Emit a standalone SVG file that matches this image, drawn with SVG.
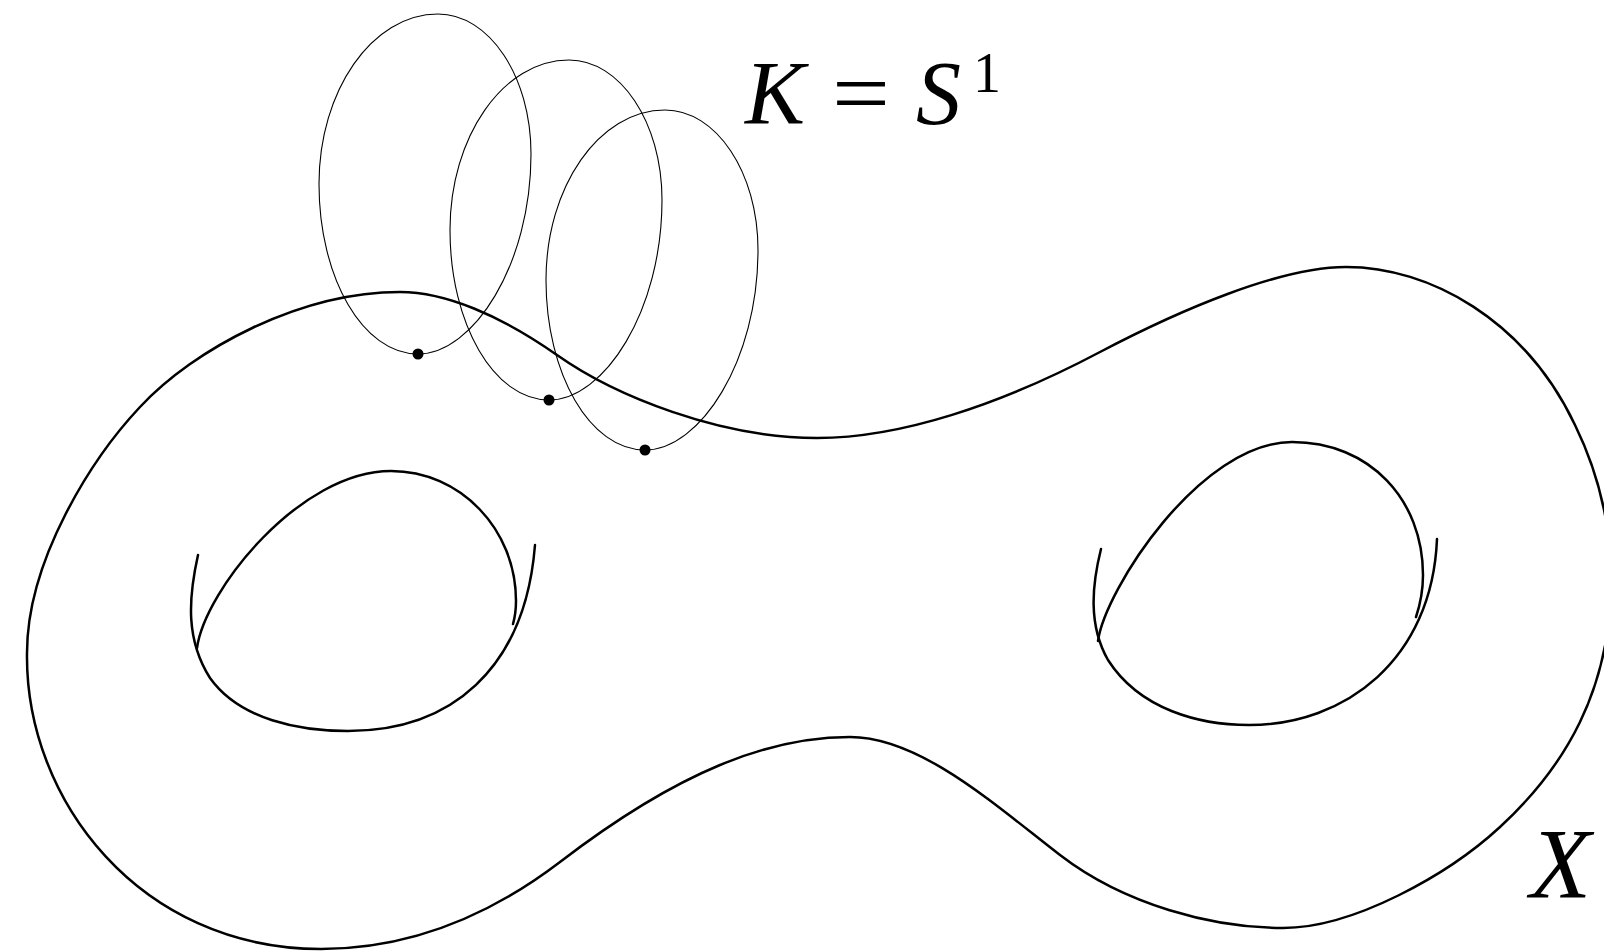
<svg xmlns="http://www.w3.org/2000/svg" xmlns:xlink="http://www.w3.org/1999/xlink" width="1604" height="951" viewBox="0 0 1604 951">
<style>
.thick{fill:none;stroke:#000;stroke-width:2.5;stroke-linecap:round;stroke-linejoin:round}
.thin{fill:none;stroke:#000;stroke-width:1.1}
.dot{fill:#000}
</style>
<defs>
<path id="loop" class="thin" d="M 0,0 C 51,0 93,62 93,140 C 93,251 35,340 -20,340 C -75,340 -119,264 -119,170 C -119,77 -66,0 0,0 Z"/>
</defs>
<rect width="1604" height="951" fill="#fff"/>
<g id="surface">
<path class="thick" d="M 27,653 C 27,560 92,458 140,407 C 194,349 300,292 400,292 C 445,292 500,315 557,355 C 615,396 720,438 817,438 C 900,438 1000,405 1100,352 C 1180,310 1280,267 1346,267 C 1430,267 1525,320 1575,425 C 1597,470 1611,520 1611,580 C 1611,690 1565,767 1500,827 C 1448,875 1353,928 1283,928 C 1213,928 1125,905 1060,855 C 995,805 920,737 850,737 C 770,737 680,770 560,862 C 480,923 400,949 321,949 C 140,949 25,800 27,653 Z"/>
</g>
<g id="hole-left">
<path class="thick" d="M 197,648 C 205,590 300,471 391,471 C 460,471 516,529 516,601 C 516,610 515,617 513,624"/>
<path class="thick" d="M 198,555 C 188,600 186,640 210,678 C 240,720 300,731 348,731 C 450,731 525,670 535,545"/>
</g>
<g id="hole-right">
<path class="thick" d="M 1098,641 C 1105,590 1200,442 1292,442 C 1370,442 1423,500 1423,575 C 1423,592 1420,605 1416,617"/>
<path class="thick" d="M 1101,549 C 1092,585 1088,625 1108,660 C 1140,710 1200,725 1249,725 C 1345,725 1432,660 1437,539"/>
</g>
<g id="loop1">
<use xlink:href="#loop" transform="translate(438,14)"/>
<circle class="dot" cx="418" cy="354" r="5.5"/>
</g>
<g id="loop2">
<use xlink:href="#loop" transform="translate(569,60)"/>
<circle class="dot" cx="549" cy="400" r="5.5"/>
</g>
<g id="loop3">
<use xlink:href="#loop" transform="translate(665,110)"/>
<circle class="dot" cx="645" cy="450" r="5.5"/>
</g>
<g id="label-K" font-family="'Liberation Serif', 'Times New Roman', Times, serif" fill="#000">
<text x="745" y="124" font-size="90" font-style="italic">K</text>
<text x="832" y="124" font-size="90" textLength="58" lengthAdjust="spacingAndGlyphs">=</text>
<text x="916" y="124" font-size="90" font-style="italic">S</text>
<text x="973" y="92" font-size="56">1</text>
</g>
<g id="label-X" font-family="'Liberation Serif', 'Times New Roman', Times, serif" fill="#000">
<text x="1530" y="897" font-size="100" font-style="italic">X</text>
</g>
</svg>
